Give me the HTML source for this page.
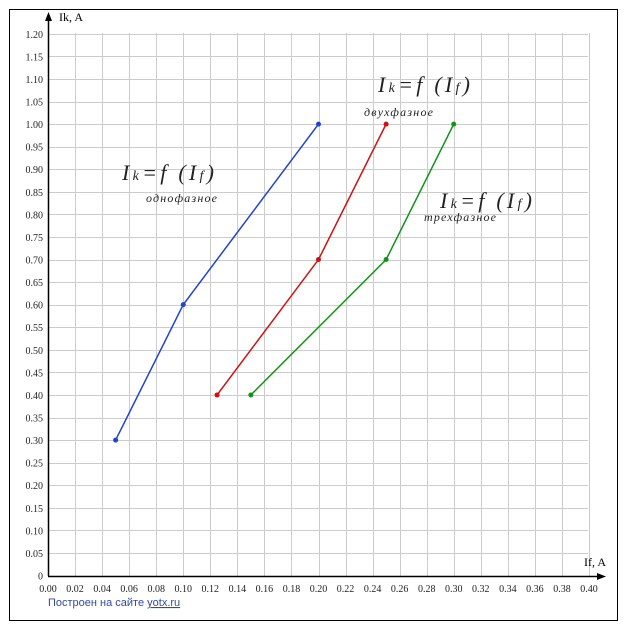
<!DOCTYPE html>
<html><head><meta charset="utf-8"><style>
body{margin:0;background:#fff;}
svg{display:block;font-family:"Liberation Serif",serif;}
</style></head><body>
<svg width="627" height="630" xmlns="http://www.w3.org/2000/svg">
<rect x="9.5" y="9.5" width="608" height="611" fill="#fff" stroke="#000" stroke-width="1"/>
<g id="grid" stroke="#ccc" stroke-width="1"></g>
<g id="lbl" font-size="10" fill="#222"></g>
<line x1="48.5" y1="576" x2="48.5" y2="18" stroke="#000" stroke-width="1.5"/>
<polygon points="48.5,12 45,21 52,21" fill="#000"/>
<line x1="48" y1="576.5" x2="600" y2="576.5" stroke="#000" stroke-width="1.5"/>
<polygon points="606,576.5 597,573 597,580" fill="#000"/>
<text x="59" y="21" font-size="12">Ik, A</text>
<text x="584" y="566" font-size="12">If, A</text>
<g id="series"></g>
<g font-style="italic" fill="#222">
<text x="122" y="180" font-size="22" textLength="92" lengthAdjust="spacing">I<tspan font-size="14">k</tspan>=f (I<tspan font-size="14">f</tspan>)</text>
<text x="146" y="202" font-size="12" textLength="71" lengthAdjust="spacing">однофазное</text>
<text x="378" y="92" font-size="22" textLength="92" lengthAdjust="spacing">I<tspan font-size="14">k</tspan>=f (I<tspan font-size="14">f</tspan>)</text>
<text x="364" y="116" font-size="12" textLength="69" lengthAdjust="spacing">двухфазное</text>
<text x="440" y="208" font-size="22" textLength="92" lengthAdjust="spacing">I<tspan font-size="14">k</tspan>=f (I<tspan font-size="14">f</tspan>)</text>
<text x="424" y="221" font-size="12" textLength="72" lengthAdjust="spacing">трехфазное</text>
</g>
<text x="48" y="606" font-size="11" fill="#334a9a" font-family="Liberation Sans,sans-serif">Построен на сайте <tspan text-decoration="underline">yotx.ru</tspan></text>
<script>
var X=function(v){return 48+v*1352.5},Y=function(v){return 575.5-v*451.4};
var g=document.getElementById('grid'),l=document.getElementById('lbl'),ns='http://www.w3.org/2000/svg';
function el(p,t,a,txt){var e=document.createElementNS(ns,t);for(var k in a)e.setAttribute(k,a[k]);if(txt)e.textContent=txt;p.appendChild(e);return e;}
for(var i=1;i<=20;i++){var x=Math.round(X(i*0.02))+0.5;el(g,'line',{x1:x,y1:33,x2:x,y2:576});}
for(var j=1;j<=24;j++){var y=Math.round(Y(j*0.05))+0.5;el(g,'line',{x1:48,y1:y,x2:588,y2:y});}
for(var i=0;i<=20;i++){el(l,'text',{x:X(i*0.02),y:592,'text-anchor':'middle'},(i*0.02).toFixed(2));}
for(var j=0;j<=24;j++){el(l,'text',{x:43,y:Y(j*0.05)+4,'text-anchor':'end'},j==0?'0':(j*0.05).toFixed(2));}
var s=document.getElementById('series');
[[[0.05,0.3],[0.1,0.6],[0.2,1.0],'#2244cc'],[[0.125,0.4],[0.2,0.7],[0.25,1.0],'#cc1111'],[[0.15,0.4],[0.25,0.7],[0.3,1.0],'#11931a']].forEach(function(d){
var c=d[3],pts=d.slice(0,3);el(s,'polyline',{points:pts.map(function(p){return X(p[0])+','+Y(p[1])}).join(' '),fill:'none',stroke:c,'stroke-width':1.5});
pts.forEach(function(p){el(s,'circle',{cx:X(p[0]),cy:Y(p[1]),r:2.5,fill:c});});});
</script>
</svg>
</body></html>
